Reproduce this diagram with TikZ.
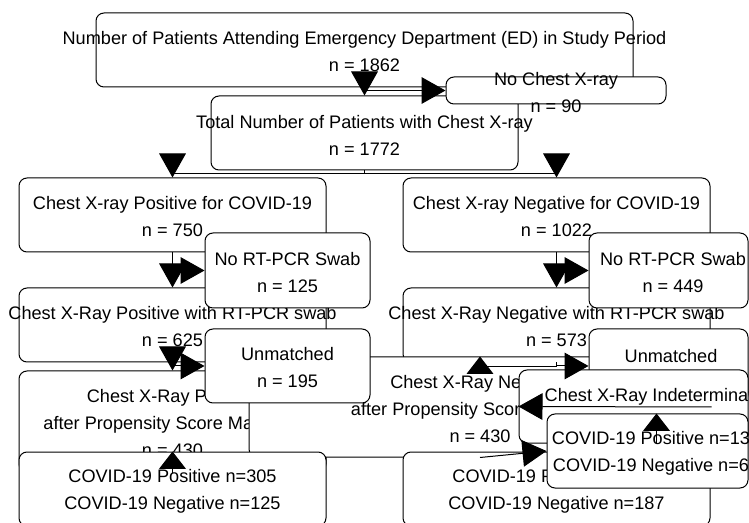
\documentclass[tikz,border=0pt]{standalone}
\usepackage{fontspec}
\setmainfont{Liberation Sans}
\usetikzlibrary{arrows.meta, positioning, calc}

\begin{document}
\begin{tikzpicture}[
        x=0.75pt, y=-0.75pt,
        box/.style={rectangle, draw, rounded corners=6pt, fill=white, line width=0.75pt, inner sep=0pt},
        sz/.style 2 args={minimum width=#1*0.75pt, minimum height=#2*0.75pt},
        txt/.style={align=center, inner sep=0pt, yshift=-1.5pt, font=\fontsize{13.6}{20.25}\selectfont},
        arrow/.style={-{Triangle[length=18pt, width=20pt]}, line width=0.75pt},
        arrowshort/.style={-{Triangle[length=13pt, width=20pt]}, line width=0.75pt}
        ]
        \useasboundingbox (0,0) rectangle (749,523);
        \clip (0,0) rectangle (749,523);

        \node (ed) [box, sz={537}{74}, label={[txt]center:{Number of Patients Attending Emergency Department (ED) in Study Period\\n = 1862}}] at (364.5,50) {};
        \node (cxr) [box, sz={307}{74}, label={[txt]center:{Total Number of Patients with Chest X-ray\\n = 1772}}] at (364.5,133) {};
        \node (nocxr) [box, sz={220}{27}, label={[txt]center:{No Chest X-ray\\n = 90}}] at (556,90.5) {};
        \node (pos) [box, sz={307}{74}, label={[txt]center:{Chest X-ray Positive for COVID-19\\n = 750}}] at (172.5,215) {};
        \node (neg) [box, sz={307}{74}, label={[txt]center:{Chest X-ray Negative for COVID-19\\n = 1022}}] at (556.5,215) {};
        \node (posswab) [box, sz={307}{74}, label={[txt]center:{Chest X-Ray Positive with RT-PCR swab\\n = 625}}] at (172.5,325) {};
        \node (negswab) [box, sz={307}{74}, label={[txt]center:{Chest X-Ray Negative with RT-PCR swab\\n = 573}}] at (556.5,325) {};
        \node (noswabpos) [box, sz={165}{75}, label={[txt]center:{No RT-PCR Swab\\n = 125}}] at (287.5,270.5) {};
        \node (noswabneg) [box, sz={159}{75}, label={[txt, xshift=3.4pt]center:{No RT-PCR Swab\\n = 449}}] at (668.5,270.5) {};
        \node (posmatch) [box, sz={307}{101}, label={[txt]center:{Chest X-Ray Positive\\after Propensity Score Matching\\n = 430}}] at (172.5,421.5) {};
        \node (negmatch) [box, sz={462}{100}, label={[txt]center:{Chest X-Ray Negative\\after Propensity Score Matching\\n = 430}}] at (480,407) {};
        \node (unmatchpos) [box, sz={165}{74}, label={[txt]center:{Unmatched\\n = 195}}] at (287.5,366) {};
        \node (unmatchneg) [box, sz={159}{74}, label={[txt, xshift=1.9pt, yshift=9pt]center:{Unmatched}}] at (668.5,366) {};
        \node (indet) [box, sz={229}{73}, label={[txt, xshift=15.4pt, yshift=8.6pt]center:{Chest X-Ray Indeterminate}}] at (633.5,406.5) {};
        \node (posres) [box, sz={307}{74}, label={[txt]center:{COVID-19 Positive n=305\\COVID-19 Negative n=125}}] at (172.5,489) {};
        \node (negres) [box, sz={307}{74}, label={[txt]center:{COVID-19 Positive n=243\\COVID-19 Negative n=187}}] at (556.5,489) {};
        \node (indres) [box, sz={201}{74}, label={[txt, xshift=6.4pt]center:{COVID-19 Positive n=13\phantom{4}\\COVID-19 Negative n=6\phantom{4}}}] at (647.5,451) {};

        \draw [arrow] (ed.south) -- (cxr.north);
        \draw [arrow] (ed.south) |- (nocxr.west);
        \draw [arrow] (cxr.south) -- ++(0,3) -| (pos.north);
        \draw [arrow] (cxr.south) -- ++(0,3) -| (neg.north);
        \draw [arrow] (pos.south) -- (posswab.north);
        \draw [arrow] (pos.south) |- (noswabpos.west);
        \draw [arrow] (neg.south) -- (negswab.north);
        \draw [arrow] (neg.south) |- (noswabneg.west);
        \draw [arrow] (posswab.south) -- (posmatch.north);
        \draw [arrow] (posswab.south) |- (unmatchpos.west);
        \draw [arrowshort] (negswab.south) -- ++(0,4) -| (negmatch.north);
        \draw [arrow] (negswab.south) |- (unmatchneg.west);
        \draw [arrowshort] (posmatch.south) -- (posres.north);
        \draw [arrow] (negmatch.south) -- (indres.west);
        \draw [arrow] (negmatch.east) -- (indet.west);
        \path ($(indet.south west)!0.6!(indet.south east)$) coordinate (indetout);
        \draw [arrowshort] (indetout) -- (indetout |- indres.north);
    \end{tikzpicture}
\end{document}
